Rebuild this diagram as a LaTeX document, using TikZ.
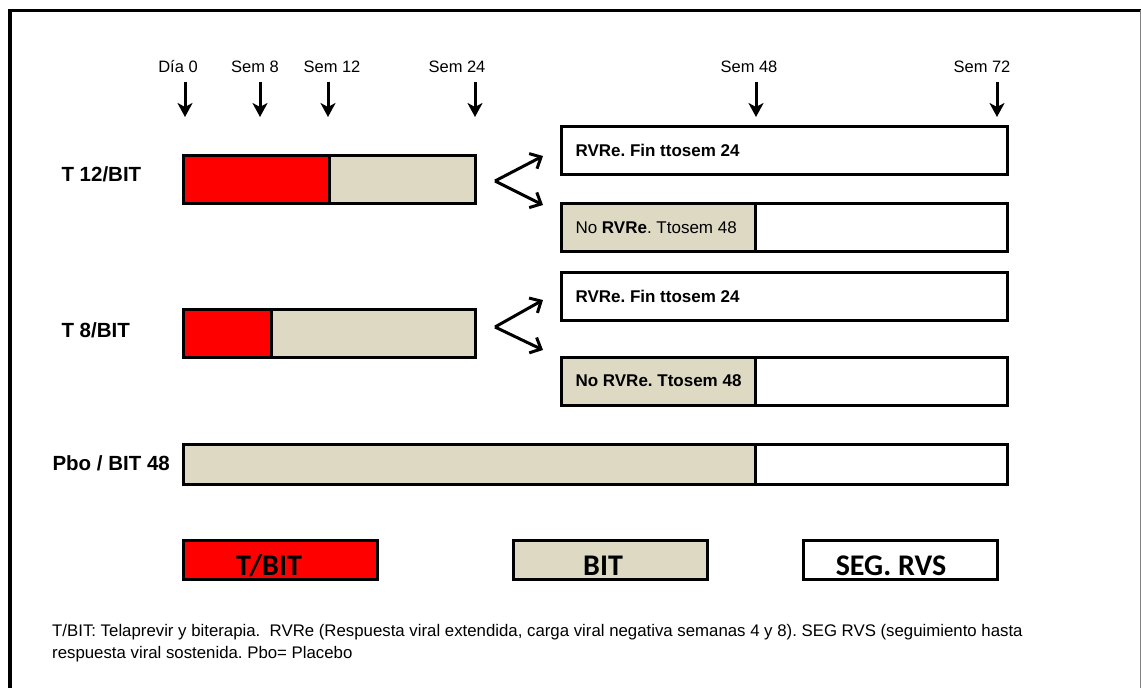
\documentclass[tikz,border=0pt]{standalone}
\usepackage{fontspec}
\setmainfont{Liberation Sans}
\newfontfamily\legfont{Carlito}
\usetikzlibrary{arrows.meta,positioning}

\definecolor{bitcol}{RGB}{221,217,195}
\definecolor{tcol}{RGB}{255,0,0}
\frenchspacing

\begin{document}
\begin{tikzpicture}[
  x=1pt, y=-1pt,
  >={Stealth[length=14pt,width=15pt,inset=4pt]},
  node distance=0pt,
  seg/.style={draw,line width=3pt,minimum height=48pt,inner sep=0pt,outer sep=0pt,anchor=west},
  tbit/.style={seg,fill=tcol},
  bit/.style={seg,fill=bitcol},
  rvs/.style={seg,fill=white},
  leg/.style={draw,line width=3pt,minimum width=194pt,minimum height=39pt,inner sep=0pt},
  legtxt/.style={anchor=base,font=\legfont\bfseries\fontsize{30}{30}\selectfont},
  week/.style={anchor=base,font=\fontsize{16.5}{18}\selectfont},
  arm/.style={anchor=base west,font=\bfseries\fontsize{20.5}{22}\selectfont},
  boxtxt/.style={anchor=west,font=\fontsize{17}{19}\selectfont},
  tick/.style={->,line width=3pt},
  fork/.style={-{Straight Barb[length=9pt,width=17pt]},line width=3pt},
]
\useasboundingbox (0,0) rectangle (1141,688);

% frame
\draw[line width=3.5pt] (10,688) -- (10,10.5) -- (1141,10.5);
\draw[gray,line width=1pt] (1140.5,10) -- (1140.5,688);

% time axis
\foreach \n/\lx/\x/\t in {d0/178/185/D\'{\i}a 0, s8/255/260/Sem 8, s12/332/328/Sem 12,
                          s24/457/475/Sem 24, s48/749/756/Sem 48, s72/982/997/Sem 72}{
  \node[week] (l\n) at (\lx,72) {\t};
  \coordinate (a\n) at (\x,82);
  \coordinate (b\n) at (\x,117);
  \draw[tick] (a\n) -- (b\n);
}

% arm 1: T 12/BIT
\node[arm] (arm1) at (58,181) {T 12/BIT};
\node[tbit,minimum width=146pt] (t12) at (183,179.5) {};
\node[bit,minimum width=146pt,right=of t12] (b12) {};

% arm 2: T 8/BIT
\node[arm] (arm2) at (58,337) {T 8/BIT};
\node[tbit,minimum width=88pt] (t8) at (183,333.5) {};
\node[bit,minimum width=204pt,right=of t8] (b8) {};

% arm 3: placebo
\node[arm] (arm3) at (49,470) {Pbo / BIT 48};
\node[bit,minimum width=572pt,minimum height=40pt] (bp) at (183,464) {};
\node[rvs,minimum width=252pt,minimum height=40pt,right=of bp] (sp) {};

% branches after week 24
\node[rvs,minimum width=446pt] (r12a) at (561,150.5) {};
\node[boxtxt,font=\bfseries\fontsize{17}{19}\selectfont] at (572,150.5) {RVRe. Fin ttosem 24};
\node[bit,minimum width=194pt] (r12b) at (561,227.5) {};
\node[rvs,minimum width=252pt,right=of r12b] (s12b) {};
\node[boxtxt] at (572,227.5) {No \textbf{RVRe}. Ttosem 48};

\node[rvs,minimum width=446pt] (r8a) at (561,296) {};
\node[boxtxt,font=\bfseries\fontsize{17}{19}\selectfont] at (572,296) {RVRe. Fin ttosem 24};
\node[bit,minimum width=194pt] (r8b) at (561,381) {};
\node[rvs,minimum width=252pt,right=of r8b] (s8b) {};
\node[boxtxt,font=\bfseries\fontsize{17}{19}\selectfont] at (572,381) {No RVRe. Ttosem 48};

% forks
\coordinate (v12) at (495,181);
\coordinate (u12) at (543,156);
\coordinate (w12) at (543,205);
\draw[fork] (v12) -- (u12);
\draw[fork] (v12) -- (w12);
\coordinate (v8) at (495,327);
\coordinate (u8) at (543,300);
\coordinate (w8) at (543,350);
\draw[fork] (v8) -- (u8);
\draw[fork] (v8) -- (w8);

% legend
\node[leg,fill=tcol] (kt) at (280,559.5) {};
\node[leg,fill=bitcol] (kb) at (610,559.5) {};
\node[leg,fill=white] (ks) at (900,559.5) {};
\node[legtxt] at (269,575) {T/BIT};
\node[legtxt] at (603,575) {BIT};
\node[legtxt] at (891,575) {SEG. RVS};

% footnote
\node[anchor=north west,align=left,inner sep=0pt,font=\fontsize{16.8}{22}\selectfont] (note) at (52,624)
  {T/BIT: Telaprevir y biterapia.\ \ RVRe (Respuesta viral extendida, carga viral negativa semanas 4 y 8). SEG RVS (seguimiento hasta\\
   respuesta viral sostenida. Pbo= Placebo};

\end{tikzpicture}
\end{document}
